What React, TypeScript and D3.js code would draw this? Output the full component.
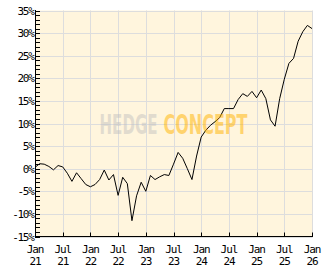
import React, { useLayoutEffect, useRef, useState } from "react";
import * as d3 from "d3";

const startYear = 2021;
const values: number[] = [
  0.3, 1.1, 1.0, 0.5, -0.25, 0.7, 0.4, -1.0, -2.8, -0.9, -2.2, -3.5,
  -4.0, -3.5, -2.4, -0.3, -2.5, -1.3, -5.9, -1.9, -3.3, -11.5, -6.0, -3.0,
  -5.0, -1.5, -2.4, -1.8, -1.3, -1.5, 1.0, 3.6, 2.3, 0.0, -2.4, 2.8,
  7.0, 8.5, 9.6, 10.4, 11.3, 13.3, 13.3, 13.3, 15.3, 16.6, 16.0, 17.1,
  15.7, 17.4, 15.5, 10.8, 9.4, 15.5, 19.8, 23.3, 24.4, 28.2, 30.3, 31.7,
  31.0,
];
const yTicks = [-15, -10, -5, 0, 5, 10, 15, 20, 25, 30, 35];
const xTickMonths = [0, 6, 12, 18, 24, 30, 36, 42, 48, 54, 60];
const monthNames = ["Jan", "Jul"];

export default function App() {
  const W = 332, H = 269;
  const left = 35, right = 312, top = 10.5, bottom = 236.5;
  const x = d3.scaleLinear().domain([0, 60]).range([left, right]);
  const y = d3.scaleLinear().domain([-15, 35]).range([bottom, top]);
  const line = d3
    .line<number>()
    .x((_, i) => x(i))
    .y((d) => y(d));
  const minorTicks = d3.range(-15, 36, 1);
  const px = (v: number) => Math.round(v) + 0.5;
  const font = "'DejaVu Sans Mono', monospace";

  const hRef = useRef<SVGTextElement>(null);
  const cRef = useRef<SVGTextElement>(null);
  const [sc, setSc] = useState<[number, number]>([0.8, 0.7]);
  useLayoutEffect(() => {
    const hw = hRef.current ? hRef.current.getComputedTextLength() : 0;
    const cw = cRef.current ? cRef.current.getComputedTextLength() : 0;
    if (hw > 0 && cw > 0) setSc([58 / hw, 84 / cw]);
  }, []);
  const wmFont = "'DejaVu Sans Condensed', 'DejaVu Sans', sans-serif";

  return (
    <svg
      width={W}
      height={H}
      style={{ position: "absolute", left: 0, top: 0, background: "#fff" }}
    >
      <rect x={left} y={top} width={right - left + 0.5} height={bottom - top} fill="#FFF5DD" />
      {yTicks.map((t) => (
        <line key={"gy" + t} x1={left} x2={right + 0.5} y1={px(y(t))} y2={px(y(t))} stroke="#DDDDDD" />
      ))}
      {xTickMonths.map((m) => (
        <line key={"gx" + m} x1={px(x(m))} x2={px(x(m))} y1={top} y2={bottom} stroke="#DDDDDD" />
      ))}
      <path d={line(values) || ""} fill="none" stroke="#000" strokeWidth={1} />
      <g transform={`translate(99.5,133.5) scale(${sc[0]},1)`}>
        <text ref={hRef} x={0} y={0} fontFamily={wmFont} fontWeight="bold" fontSize={26} fill="#BDBDBD" opacity={0.45}>
          HEDGE
        </text>
      </g>
      <g transform={`translate(163.5,133.5) scale(${sc[1]},1)`}>
        <text ref={cRef} x={0} y={0} fontFamily={wmFont} fontWeight="bold" fontSize={26} fill="#FFB300" opacity={0.5}>
          CONCEPT
        </text>
      </g>
      {/* axes */}
      <line x1={px(left)} x2={px(left)} y1={top - 0.5} y2={bottom + 0.5} stroke="#000" />
      <line x1={left} x2={right + 1} y1={bottom} y2={bottom} stroke="#000" />
      {minorTicks.map((t) => (
        <line key={"mt" + t} x1={left} x2={left + 5} y1={px(y(t))} y2={px(y(t))} stroke="#000" />
      ))}
      {xTickMonths.map((m) => (
        <line key={"xt" + m} x1={px(x(m))} x2={px(x(m))} y1={bottom - 4} y2={bottom} stroke="#000" />
      ))}
      {yTicks.map((t) => (
        <text
          key={"yl" + t}
          x={33.5}
          y={y(t) + 4}
          textAnchor="end"
          fontFamily={font}
          fontSize={11}
          letterSpacing={-1.3}
          fill="#000"
        >
          {t + "%"}
        </text>
      ))}
      {xTickMonths.map((m) => (
        <g key={"xl" + m}>
          <text x={x(m)} y={252.5} textAnchor="middle" fontFamily={font} fontSize={11} letterSpacing={-1.1} fill="#000">
            {monthNames[(m / 6) % 2]}
          </text>
          <text x={x(m)} y={264.5} textAnchor="middle" fontFamily={font} fontSize={11} letterSpacing={-1.1} fill="#000">
            {String((startYear + Math.floor(m / 12)) % 100)}
          </text>
        </g>
      ))}
    </svg>
  );
}
